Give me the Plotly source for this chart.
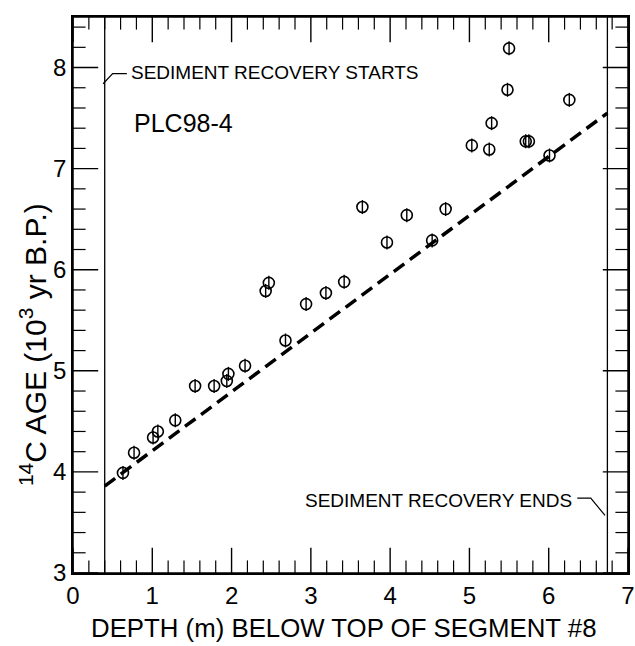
import numpy as np
import plotly.graph_objects as go

# ---- data ----
depth_m = [0.63, 0.77, 1.01, 1.07, 1.29, 1.54, 1.78, 1.94, 1.96, 2.17,
           2.43, 2.47, 2.68, 2.94, 3.19, 3.42, 3.65, 3.96, 4.21, 4.53,
           4.70, 5.03, 5.25, 5.28, 5.48, 5.50, 5.71, 5.75, 6.01, 6.26]
age_kyr = [3.99, 4.19, 4.34, 4.40, 4.51, 4.85, 4.85, 4.90, 4.97, 5.05,
           5.79, 5.87, 5.30, 5.66, 5.77, 5.88, 6.62, 6.27, 6.54, 6.29,
           6.60, 7.23, 7.19, 7.45, 7.78, 8.19, 7.27, 7.27, 7.13, 7.68]

trend_x = [0.40, 6.74]
trend_y = [3.86, 7.55]

recovery_start = 0.40
recovery_end = 6.74

x_range = [0, 7]
y_range = [3, 8.5]
x_major = [0, 1, 2, 3, 4, 5, 6, 7]
y_major = [3, 4, 5, 6, 7, 8]
minor_step = 0.2

FONT = "Liberation Sans, Arial, Helvetica, sans-serif"
WIDTH, HEIGHT = 635, 646
MARGIN = dict(l=73, r=7, t=17, b=73)
MAJOR_LEN = 18
MINOR_LEN = 9

fig = go.Figure()

# dashed trend line
fig.add_trace(go.Scatter(x=trend_x, y=trend_y, mode="lines",
                         line=dict(color="black", width=3.5, dash="13px,7px"),
                         hoverinfo="skip", showlegend=False))

# recovery boundary lines
for xv in (recovery_start, recovery_end):
    fig.add_trace(go.Scatter(x=[xv, xv], y=y_range, mode="lines",
                             line=dict(color="black", width=1.3),
                             hoverinfo="skip", showlegend=False))

# markers: open circle with vertical bar
fig.add_trace(go.Scatter(x=depth_m, y=age_kyr, mode="markers",
                         marker=dict(symbol="circle-open", size=11, color="black",
                                     line=dict(width=1.6, color="black")),
                         showlegend=False))
fig.add_trace(go.Scatter(x=depth_m, y=age_kyr, mode="markers",
                         marker=dict(symbol="line-ns-open", size=10, color="black",
                                     line=dict(width=1.4, color="black")),
                         showlegend=False, hoverinfo="skip"))

# leader lines for annotations
start_leader_x = [0.38, 0.50, 0.68]
start_leader_y = [7.84, 7.94, 7.94]
end_leader_x = [6.36, 6.53, 6.71]
end_leader_y = [3.74, 3.74, 3.57]
for lx, ly in ((start_leader_x, start_leader_y), (end_leader_x, end_leader_y)):
    fig.add_trace(go.Scatter(x=lx, y=ly, mode="lines",
                             line=dict(color="black", width=1.2),
                             hoverinfo="skip", showlegend=False))

# ---- axis decoration: inward ticks on all four sides drawn as clipped line markers ----
x_all = [float(v) for v in np.round(np.arange(x_range[0], x_range[1] + 1e-9, minor_step), 6)]
y_all = [float(v) for v in np.round(np.arange(y_range[0], y_range[1] + 1e-9, minor_step), 6)]

def is_major(v, majors):
    return any(abs(v - m) < 1e-6 for m in majors)

for major in (True, False):
    L = MAJOR_LEN if major else MINOR_LEN
    w = 1.4 if major else 1.2
    xs = [v for v in x_all if is_major(v, x_major) == major]
    ys = [v for v in y_all if is_major(v, y_major) == major]
    # bottom and top ticks
    fig.add_trace(go.Scatter(
        x=xs + xs, y=[y_range[0]] * len(xs) + [y_range[1]] * len(xs), mode="markers",
        marker=dict(symbol="line-ns-open", size=2 * L, color="black",
                    line=dict(width=w, color="black")),
        cliponaxis=True, hoverinfo="skip", showlegend=False))
    # left and right ticks
    fig.add_trace(go.Scatter(
        x=[x_range[0]] * len(ys) + [x_range[1]] * len(ys), y=ys + ys, mode="markers",
        marker=dict(symbol="line-ew-open", size=2 * L, color="black",
                    line=dict(width=w, color="black")),
        cliponaxis=True, hoverinfo="skip", showlegend=False))

# frame around the plotting area
fig.add_shape(type="rect", xref="paper", yref="paper", x0=0, x1=1, y0=0, y1=1,
              line=dict(color="black", width=1.5), fillcolor="rgba(0,0,0,0)",
              layer="above")

axis_common = dict(
    showgrid=False, zeroline=False, showline=True, linecolor="black", linewidth=1.5,
    mirror=True, ticks="inside", ticklen=MAJOR_LEN, tickcolor="rgba(0,0,0,0)",
    tickfont=dict(family=FONT, size=24, color="black"),
)
fig.update_xaxes(range=x_range, tickmode="array", tickvals=x_major,
                 ticktext=[str(v) for v in x_major], **axis_common)
fig.update_yaxes(range=y_range, tickmode="array", tickvals=y_major,
                 ticktext=[str(v) for v in y_major], **axis_common)

annotations = [
    dict(text="SEDIMENT RECOVERY STARTS", x=0.71, y=7.95, xref="x", yref="y",
         xanchor="left", yanchor="middle", showarrow=False,
         font=dict(family=FONT, size=19, color="black")),
    dict(text="SEDIMENT RECOVERY ENDS", x=6.32, y=3.72, xref="x", yref="y",
         xanchor="right", yanchor="middle", showarrow=False,
         font=dict(family=FONT, size=19, color="black")),
    dict(text="PLC98-4", x=0.75, y=7.45, xref="x", yref="y",
         xanchor="left", yanchor="middle", showarrow=False,
         font=dict(family=FONT, size=25, color="black")),
    dict(text="DEPTH (m) BELOW TOP OF SEGMENT #8", x=0.488, y=-0.099,
         xref="paper", yref="paper", xanchor="center", yanchor="middle",
         showarrow=False, font=dict(family=FONT, size=25.8, color="black")),
    dict(text="<sup>14</sup>C AGE (10<sup>3</sup> yr B.P.)", x=-0.072, y=0.41,
         xref="paper", yref="paper", xanchor="center", yanchor="middle",
         textangle=-90, showarrow=False,
         font=dict(family=FONT, size=30, color="black")),
]

fig.update_layout(
    width=WIDTH, height=HEIGHT,
    margin=dict(**MARGIN, autoexpand=False),
    paper_bgcolor="white", plot_bgcolor="white",
    annotations=annotations,
    showlegend=False,
)

post_js = "document.body.style.margin='0';document.body.style.padding='0';"

fig.write_html("out.html", config={"displayModeBar": False}, post_script=post_js)
